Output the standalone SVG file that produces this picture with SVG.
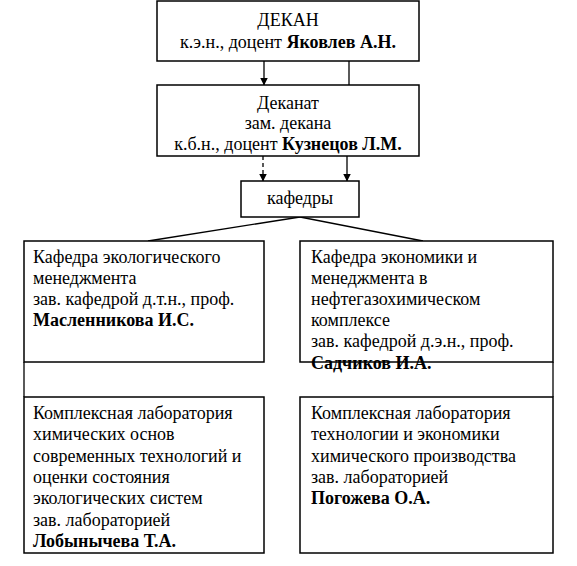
<svg xmlns="http://www.w3.org/2000/svg" width="577" height="566" viewBox="0 0 577 566">
<defs>
<style>
.box{fill:#fff;stroke:#000;stroke-width:1.5}
.ln{fill:none;stroke:#000;stroke-width:1.3}
.dash{stroke-dasharray:4 3}
.t{font-family:'Liberation Serif','Times New Roman','DejaVu Serif',serif;font-size:18px;fill:#000}
.c{text-anchor:middle}
.b{font-weight:bold}
</style>
<marker id="ah" viewBox="0 0 8 8" refX="7.5" refY="4" markerWidth="8" markerHeight="8" markerUnits="userSpaceOnUse" orient="auto">
<path d="M0,0 L8,4 L0,8 Z" fill="#000"/>
</marker>
</defs>
<rect width="577" height="566" fill="#fff"/>
<g id="connectors">
<line class="ln" x1="264" y1="61" x2="264" y2="85" marker-end="url(#ah)"/>
<line class="ln" x1="349" y1="61" x2="349" y2="85"/>
<line class="ln dash" x1="263" y1="156" x2="263" y2="181" marker-end="url(#ah)"/>
<line class="ln" x1="347" y1="156" x2="347" y2="181" marker-end="url(#ah)"/>
<line class="ln" x1="300" y1="217" x2="148" y2="241"/>
<line class="ln" x1="300" y1="217" x2="423" y2="241"/>
<line class="ln" x1="24" y1="362" x2="24" y2="397"/>
<line class="ln" x1="553" y1="362" x2="553" y2="397"/>
</g>
<g id="dekan" class="t" font-family="Liberation Serif, serif">
<rect class="box" x="157" y="1" width="262" height="60"/>
<text class="c" x="288" y="26">ДЕКАН</text>
<text class="c" x="288" y="48">к.э.н., доцент <tspan class="b">Яковлев А.Н.</tspan></text>
</g>
<g id="dekanat" class="t" font-family="Liberation Serif, serif">
<rect class="box" x="157" y="85" width="262" height="71"/>
<text class="c" x="288" y="109">Деканат</text>
<text class="c" x="288" y="129">зам. декана</text>
<text class="c" x="288" y="150">к.б.н., доцент <tspan class="b">Кузнецов Л.М.</tspan></text>
</g>
<g id="kafedry" class="t" font-family="Liberation Serif, serif">
<rect class="box" x="241" y="181" width="118" height="36"/>
<text class="c" x="300" y="204">кафедры</text>
</g>
<g id="kaf-eco" class="t" font-family="Liberation Serif, serif">
<rect class="box" x="24" y="241" width="240" height="121"/>
<text x="33" y="263">Кафедра экологического</text>
<text x="33" y="284">менеджмента</text>
<text x="33" y="305">зав. кафедрой д.т.н., проф.</text>
<text x="33" y="326" class="b">Масленникова И.С.</text>
</g>
<g id="kaf-econ" class="t" font-family="Liberation Serif, serif">
<rect class="box" x="300" y="241" width="253" height="121"/>
<text x="311" y="263">Кафедра экономики и</text>
<text x="311" y="284">менеджмента в</text>
<text x="311" y="305">нефтегазохимическом</text>
<text x="311" y="326">комплексе</text>
<text x="311" y="347">зав. кафедрой д.э.н., проф.</text>
<text x="311" y="369" class="b">Садчиков И.А.</text>
</g>
<g id="lab-eco" class="t" font-family="Liberation Serif, serif">
<rect class="box" x="24" y="397" width="240" height="156"/>
<text x="33" y="419">Комплексная лаборатория</text>
<text x="33" y="440">химических основ</text>
<text x="33" y="462">современных технологий и</text>
<text x="33" y="483">оценки состояния</text>
<text x="33" y="504">экологических систем</text>
<text x="33" y="526">зав. лабораторией</text>
<text x="33" y="547" class="b">Лобынычева Т.А.</text>
</g>
<g id="lab-econ" class="t" font-family="Liberation Serif, serif">
<rect class="box" x="300" y="397" width="253" height="156"/>
<text x="311" y="419">Комплексная лаборатория</text>
<text x="311" y="440">технологии и экономики</text>
<text x="311" y="462">химического производства</text>
<text x="311" y="483">зав. лабораторией</text>
<text x="311" y="504" class="b">Погожева О.А.</text>
</g>
</svg>
